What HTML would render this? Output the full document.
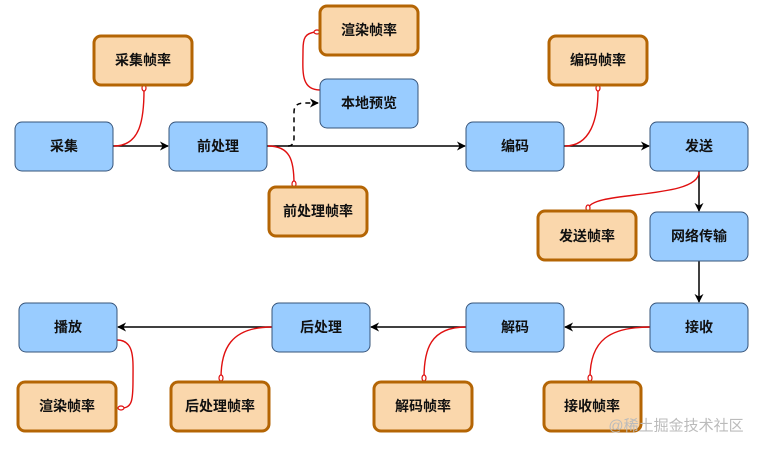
<!DOCTYPE html>
<html><head><meta charset="utf-8"><style>
html,body{margin:0;padding:0;background:#fff;}
svg text{font-family:"Liberation Sans","Noto Sans CJK SC",sans-serif;font-size:14px;font-weight:bold;fill:#111;text-anchor:middle;dominant-baseline:central;}
</style></head><body>
<svg width="761" height="450" viewBox="0 0 761 450" xmlns="http://www.w3.org/2000/svg">
<defs>
<marker id="ar" viewBox="0 0 10 10" refX="9" refY="5" markerWidth="9" markerHeight="9" orient="auto" markerUnits="userSpaceOnUse"><path d="M0,0 L10,5 L0,10 L3,5 z" fill="#000"/></marker>
</defs>
<g stroke="#000" stroke-width="1.5" fill="none">
<line x1="113" y1="146" x2="168" y2="146" marker-end="url(#ar)"/>
<line x1="267" y1="146" x2="465" y2="146" marker-end="url(#ar)"/>
<line x1="564" y1="146" x2="649" y2="146" marker-end="url(#ar)"/>
<line x1="699" y1="171" x2="699" y2="211" marker-end="url(#ar)"/>
<line x1="699" y1="261" x2="699" y2="302" marker-end="url(#ar)"/>
<line x1="650" y1="327" x2="565" y2="327" marker-end="url(#ar)"/>
<line x1="466" y1="327" x2="371" y2="327" marker-end="url(#ar)"/>
<line x1="272" y1="327" x2="118" y2="327" marker-end="url(#ar)"/>
<path d="M288,146 Q294,146 294,138 L294,112 Q294,103 304,103 L318,103" stroke-dasharray="5,4" marker-end="url(#ar)"/>
</g>
<g stroke="#e01010" stroke-width="1.4" fill="none">
<path d="M114,146 C140,146 144,120 144,90"/>
<path d="M268,146 C290,146 294,160 294,184"/>
<path d="M320,90 C300,90 303,70 303,50 C303,38 305,33 316,32"/>
<path d="M565,146 C590,146 598,120 598,90"/>
<path d="M699,172 C699,200 590,190 588,209"/>
<path d="M650,327 C610,327 590,340 590,378"/>
<path d="M466,327 C430,327 424,350 424,378"/>
<path d="M272,327 C230,327 221,350 221,378"/>
<path d="M117,340 C135,340 133,360 133,380 C133,400 132,408 122,408"/>
</g>
<g fill="#fff" stroke="#e01010" stroke-width="1.2">
<ellipse cx="144" cy="88" rx="2" ry="3"/>
<ellipse cx="294" cy="184" rx="2" ry="3"/>
<ellipse cx="317" cy="32" rx="3" ry="2"/>
<ellipse cx="598" cy="88" rx="2" ry="3"/>
<ellipse cx="588" cy="208" rx="2" ry="3"/>
<ellipse cx="590" cy="378" rx="2" ry="3"/>
<ellipse cx="424" cy="378" rx="2" ry="3"/>
<ellipse cx="221" cy="378" rx="2" ry="3"/>
<ellipse cx="121" cy="408" rx="3" ry="2"/>
</g>
<g fill="#99ccff" stroke="#36547a" stroke-width="1">
<rect x="15" y="122" width="98" height="49" rx="7"/>
<rect x="169" y="122" width="98" height="49" rx="7"/>
<rect x="320" y="79" width="98" height="49" rx="7"/>
<rect x="466" y="122" width="98" height="49" rx="7"/>
<rect x="650" y="122" width="98" height="49" rx="7"/>
<rect x="650" y="212" width="98" height="49" rx="7"/>
<rect x="650" y="303" width="98" height="49" rx="7"/>
<rect x="466" y="303" width="98" height="49" rx="7"/>
<rect x="272" y="303" width="98" height="49" rx="7"/>
<rect x="19" y="303" width="98" height="49" rx="7"/>
</g>
<g fill="#fad7ac" stroke="#b46504" stroke-width="3">
<rect x="94" y="36" width="98" height="49" rx="7"/>
<rect x="320" y="6" width="98" height="49" rx="7"/>
<rect x="269" y="187" width="98" height="49" rx="7"/>
<rect x="549" y="36" width="98" height="49" rx="7"/>
<rect x="538" y="211" width="98" height="49" rx="7"/>
<rect x="544" y="382" width="97" height="49" rx="7"/>
<rect x="374" y="382" width="98" height="49" rx="7"/>
<rect x="171" y="382" width="98" height="49" rx="7"/>
<rect x="18" y="382" width="98" height="49" rx="7"/>
</g>
<text x="64" y="146">采集</text>
<text x="218" y="146">前处理</text>
<text x="369" y="103">本地预览</text>
<text x="515" y="146">编码</text>
<text x="699" y="146">发送</text>
<text x="699" y="236">网络传输</text>
<text x="699" y="327">接收</text>
<text x="515" y="327">解码</text>
<text x="321" y="327">后处理</text>
<text x="68" y="327">播放</text>
<text x="143" y="60">采集帧率</text>
<text x="369" y="30">渲染帧率</text>
<text x="318" y="211">前处理帧率</text>
<text x="598" y="60">编码帧率</text>
<text x="587" y="236">发送帧率</text>
<text x="592" y="406">接收帧率</text>
<text x="423" y="406">解码帧率</text>
<text x="220" y="406">后处理帧率</text>
<text x="67" y="406">渲染帧率</text>
<text x="676" y="426" style="font-size:15px;font-weight:normal;fill:#bbb">@稀土掘金技术社区</text>
</svg>
</body></html>
